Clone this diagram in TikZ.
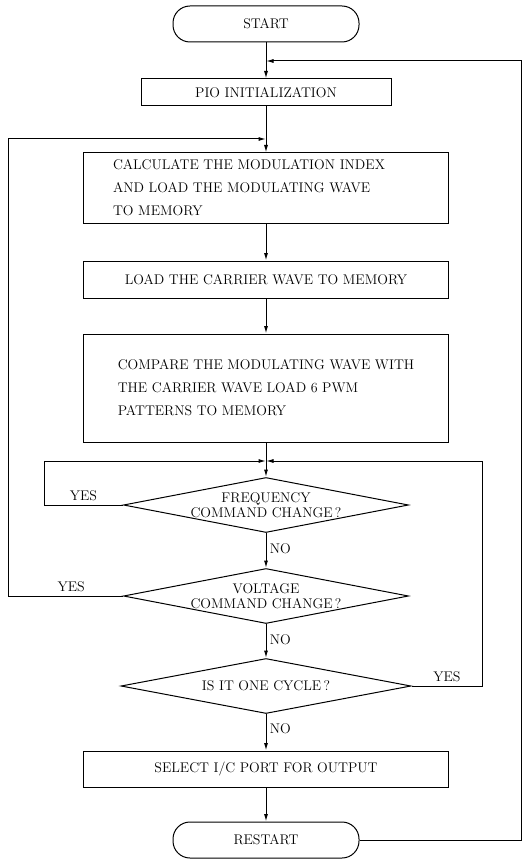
\documentclass[tikz,border=0pt]{standalone}
\usepackage{tikz}
\usetikzlibrary{positioning}
\usetikzlibrary{arrows.meta}
\usetikzlibrary{shapes.geometric}

\tikzset{
  flow/.style={-{Latex[length=7.5pt,width=4pt]}, line width=1pt},
  termbox/.style={draw, line width=1pt, rectangle, rounded corners=17pt,
    minimum width=186pt, minimum height=36pt},
  procbox/.style={draw, line width=1pt, rectangle, minimum width=365pt,
    align=left, font=\fontsize{14}{23}\selectfont},
  askbox/.style={draw, line width=1pt, diamond, aspect=5.2, inner sep=0pt,
    minimum width=285pt, minimum height=55pt, align=center,
    font=\fontsize{14}{14.5}\selectfont},
  answer/.style={font=\fontsize{14}{16}\selectfont}
}

\begin{document}
\begin{tikzpicture}[x=1pt, y=1pt, font=\fontsize{14}{16}\selectfont]
  \useasboundingbox (0,0) rectangle (522,-861);

  % Terminals
  \node[termbox] (start) at (266,-24) {START};
  \node[termbox] (restart) at (266,-840) {RESTART};

  % Junctions
  \coordinate (j1) at (266,-61);
  \coordinate (j2) at (266,-139);
  \coordinate (j3) at (266,-461);

  % Processes
  \node[procbox, minimum width=250pt, minimum height=27pt] (pio) at (266,-92.5)
    {PIO INITIALIZATION};
  \node[procbox, minimum height=70pt, text width=306pt] (calc) at (266,-188)
    {CALCULATE THE MODULATION INDEX\\AND LOAD THE MODULATING WAVE\\TO MEMORY};
  \node[procbox, minimum height=37pt] (carrier) at (266,-279.5)
    {LOAD THE CARRIER WAVE TO MEMORY};
  \node[procbox, minimum height=108pt] (compare) at (266,-388)
    {COMPARE THE MODULATING WAVE WITH\\THE CARRIER WAVE LOAD 6 PWM\\PATTERNS TO MEMORY};
  \node[procbox, minimum height=36pt] (select) at (266,-769)
    {SELECT I/C PORT FOR OUTPUT};

  % Decisions
  \node[askbox] (freq) at (266,-505) {FREQUENCY\\COMMAND CHANGE\,?};
  \node[askbox] (volt) at (266,-596) {VOLTAGE\\COMMAND CHANGE\,?};
  \node[askbox, minimum width=290pt] (cycle) at (266,-686) {IS IT ONE CYCLE\,?};

  % Main flow
  \draw[flow] (start) -- (pio);
  \draw[flow] (pio) -- (calc);
  \draw[flow] (calc) -- (carrier);
  \draw[flow] (carrier) -- (compare);
  \draw[flow] (compare) -- (freq);
  \draw[flow] (freq) -- node[answer, right, pos=0.45] {NO} (volt);
  \draw[flow] (volt) -- node[answer, right, pos=0.45] {NO} (cycle);
  \draw[flow] (cycle) -- node[answer, right, pos=0.4] {NO} (select);
  \draw[flow] (select) -- (restart);

  % Loops
  \draw[flow] (freq.west) -- ++(-79,0) node[answer, midway, above] {YES} |- (j3);
  \draw[flow] (volt.west) -- ++(-115,0) node[answer, pos=0.45, above] {YES} |- (j2);
  \draw[flow] (cycle.east) -- ++(71,0) node[answer, midway, above] {YES} |- (j3);
  \draw[flow] (restart.east) -- ++(162,0) |- (j1);
\end{tikzpicture}
\end{document}
